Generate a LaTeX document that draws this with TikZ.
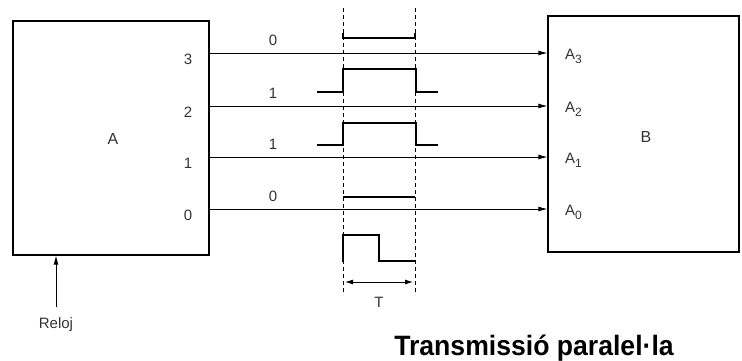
\documentclass[tikz,border=0pt]{standalone}
\usepackage{fontspec}
\setmainfont{Liberation Sans}
\usetikzlibrary{positioning,arrows.meta}

\begin{document}
\begin{tikzpicture}[
    x=1pt, y=-1pt,
    blk/.style={draw, line width=1.2pt, inner sep=0pt},
    lbl/.style={font=\fontsize{15}{17}\selectfont, text=black!80, inner sep=1pt},
    sig/.style={-{Latex[length=9pt, width=5pt]}, line width=0.9pt},
    wave/.style={line width=2pt, line join=miter},
    guide/.style={dashed, dash pattern=on 4pt off 3pt, line width=0.8pt}
  ]
    \useasboundingbox (0,0) rectangle (742,360);

    % the two units
    \node[blk, minimum width=196pt, minimum height=234pt] (A) at (111,138) {};
    \node[blk, minimum width=191pt, minimum height=236pt] (B) at (643.5,134) {};
    \node[lbl, font=\fontsize{16}{18}\selectfont] (nameA) at (113,139) {A};
    \node[lbl, font=\fontsize{16}{18}\selectfont] (nameB) at (646,137) {B};

    % parallel lines, one per bit
    \foreach \y/\bit/\i in {53/0/3, 106/1/2, 157/1/1, 209/0/0} {
      \coordinate (o\i) at (A.east |- 0,\y);
      \coordinate (i\i) at (B.west |- 0,\y);
      \draw[sig] (o\i) -- (i\i);
      \node[lbl] (pin\i) at (188,\y+6) {\i};
      \node[lbl, anchor=base west, inner sep=0pt] (in\i) at (565,\y+6)
        {A\raisebox{-4pt}{\fontsize{12}{13}\selectfont\i}};
      \node[lbl] (bit\i) at (273,\y-13) {\bit};
    }

    % time window
    \draw[guide] (343,8) -- (343,295);
    \draw[guide] (415,8) -- (415,295);

    % levels
    \draw[wave] (343,33) -- (343,38) -- (415,38) -- (415,33);
    \draw[wave] (317,92) -- (343,92) -- (343,69) -- (416,69) -- (416,92) -- (438,92);
    \draw[wave] (317,145) -- (343,145) -- (343,123) -- (416,123) -- (416,145) -- (438,145);
    \draw[wave] (343,197) -- (415,197);
    \draw[wave] (343,262) -- (343,235) -- (379,235) -- (379,261) -- (415,261);

    % period
    \coordinate (tl) at (345,282);
    \coordinate (tr) at (413,282);
    \draw[{Latex[length=8pt, width=5pt]}-{Latex[length=8pt, width=5pt]}, line width=0.9pt] (tl) -- (tr);
    \node[lbl] (per) at (379,302) {T};

    % clock input
    \node[lbl] (clk) at (56,325) {Reloj};
    \draw[sig] (clk.north |- 0,307) -- (A.south -| clk.north);

    \node[font=\bfseries\fontsize{28}{30}\selectfont, anchor=base, inner sep=0pt] (title) at (534,355) {\scalebox{0.95}[1]{Transmissió paralel·la}};
  \end{tikzpicture}
\end{document}
